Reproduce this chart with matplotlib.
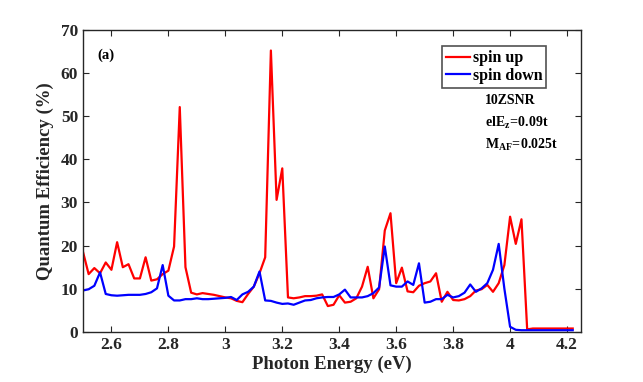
import numpy as np
import matplotlib
matplotlib.use("Agg")
import matplotlib.pyplot as plt
from matplotlib.ticker import FuncFormatter

plt.rcParams['font.family'] = ['Liberation Serif', 'DejaVu Serif']
plt.rcParams['font.weight'] = 'bold'
plt.rcParams['mathtext.fontset'] = 'custom'
plt.rcParams['mathtext.rm'] = 'Liberation Serif:bold'
plt.rcParams['mathtext.it'] = 'Liberation Serif:bold'
plt.rcParams['mathtext.bf'] = 'Liberation Serif:bold'

energy = np.round(np.arange(2.50, 4.2201, 0.02), 2)

spin_up = [18.6, 13.4, 14.8, 13.6, 16.1, 14.4, 20.8, 15.0, 15.7, 12.4,
           12.4, 17.3, 11.9, 12.2, 13.4, 14.2, 19.8, 52.1, 15.0, 9.1,
           8.7, 9.0, 8.8, 8.6, 8.3, 8.0, 7.8, 7.2, 6.9, 8.8,
           10.5, 13.6, 17.3, 65.2, 30.6, 37.9, 8.0, 7.8, 8.0, 8.3,
           8.3, 8.4, 8.7, 6.0, 6.3, 8.5, 6.8, 7.0, 7.8, 10.5,
           15.1, 7.8, 9.9, 23.5, 27.5, 11.3, 14.9, 9.4, 9.2, 10.7,
           11.3, 11.7, 13.6, 7.0, 9.3, 7.4, 7.3, 7.6, 8.3, 9.6,
           9.9, 10.9, 9.3, 11.3, 15.5, 26.7, 20.4, 26.1, 0.6, 0.8,
           0.8, 0.8, 0.8, 0.8, 0.8, 0.8, 0.8]

spin_down = [9.6, 9.9, 10.7, 13.8, 8.8, 8.5, 8.4, 8.5, 8.6, 8.6,
             8.6, 8.8, 9.2, 10.1, 15.5, 8.4, 7.3, 7.3, 7.6, 7.6,
             7.8, 7.6, 7.6, 7.7, 7.8, 7.9, 8.1, 7.4, 8.7, 9.3,
             10.5, 14.0, 7.3, 7.2, 6.8, 6.5, 6.6, 6.3, 6.8, 7.3,
             7.4, 7.8, 8.0, 8.1, 8.1, 8.7, 9.8, 8.0, 8.0, 8.0,
             8.3, 9.0, 10.3, 19.8, 10.8, 10.5, 10.5, 11.7, 10.9, 15.9,
             6.8, 7.0, 7.6, 7.6, 8.6, 8.0, 8.3, 9.1, 11.0, 9.3,
             10.1, 11.3, 14.4, 20.4, 10.0, 1.2, 0.5, 0.4, 0.4, 0.4,
             0.4, 0.4, 0.4, 0.4, 0.4, 0.4, 0.4]

xticks = [2.6, 2.8, 3.0, 3.2, 3.4, 3.6, 3.8, 4.0, 4.2]
yticks = [0, 10, 20, 30, 40, 50, 60, 70]

fig = plt.figure(figsize=(6.43, 3.82), dpi=100)
ax = fig.add_axes([0.129, 0.131, 0.775, 0.791])

ax.plot(energy, spin_up, color='#ff0000', lw=1.6, label='spin up')
ax.plot(energy, spin_down, color='#0000ff', lw=1.6, label='spin down')

ax.set_xlim(2.5, 4.25)
ax.set_ylim(0, 70)
ax.set_xticks(xticks)
ax.set_yticks(yticks)
ax.xaxis.set_major_formatter(FuncFormatter(lambda v, p: f'{v:g}'))
ax.tick_params(direction='in', top=True, right=True, length=4, width=0.8,
               labelsize=12.5, colors='#262626')
for lab in ax.get_xticklabels() + ax.get_yticklabels():
    lab.set_fontweight('bold')
for s in ax.spines.values():
    s.set_color('#262626')
    s.set_linewidth(1.0)

ax.set_xlabel('Photon Energy (eV)', fontsize=13.5, fontweight='bold', color='#262626', labelpad=2)
ax.set_ylabel('Quantum Efficiency (%)', fontsize=13.5, fontweight='bold', color='#262626', labelpad=5)

leg = ax.legend(loc='upper right', bbox_to_anchor=(0.93, 0.945), fontsize=11.5,
                frameon=True, fancybox=False, handlelength=1.45, handletextpad=0.2,
                borderpad=0.25, labelspacing=0.1, borderaxespad=0)
leg.get_frame().set_edgecolor('#262626')
leg.get_frame().set_linewidth(1.2)
for t in leg.get_texts():
    t.set_fontweight('bold')

ax.text(0.028, 0.905, '(a)', transform=ax.transAxes, fontsize=10.5, fontweight='bold')
ax.text(0.806, 0.755, '10ZSNR', transform=ax.transAxes, fontsize=10, fontweight='bold')
ax.text(0.806, 0.68, r'$\mathrm{elE_{z}\!=\!0.09t}$', transform=ax.transAxes, fontsize=10)
ax.text(0.806, 0.605, r'$\mathrm{M_{AF}\!=\!0.025t}$', transform=ax.transAxes, fontsize=10)

fig.savefig('out.png', dpi=100)
